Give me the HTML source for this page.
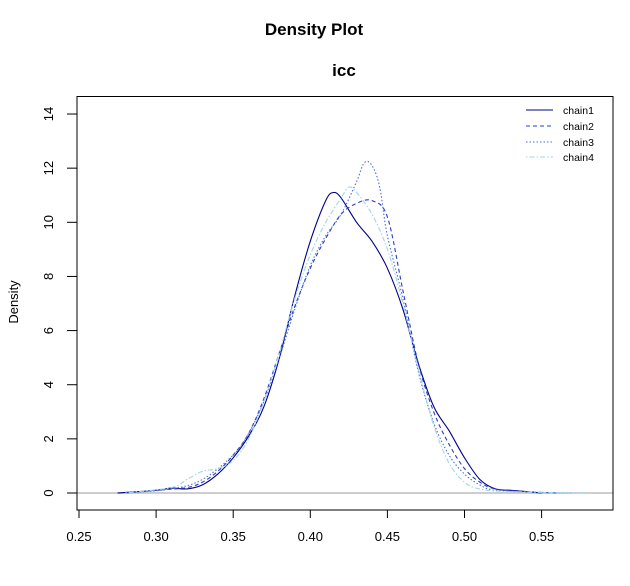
<!DOCTYPE html>
<html><head><meta charset="utf-8"><style>
body{margin:0;background:#fff}
svg{display:block;font-family:"Liberation Sans",Arial,sans-serif}
</style></head><body>
<svg id="s" width="630" height="586" xmlns="http://www.w3.org/2000/svg">
<rect width="630" height="586" fill="#fff"/>
<text x="314" y="35" text-anchor="middle" font-size="17" font-weight="bold">Density Plot</text>
<text x="344" y="76" text-anchor="middle" font-size="17" font-weight="bold">icc</text>
<line x1="77" y1="493" x2="613" y2="493" stroke="#bebebe" stroke-width="1.5"/>
<g id="curves" fill="none"></g>
<rect x="77" y="96.5" width="536" height="413.5" fill="none" stroke="#000" stroke-width="1"/>
<g id="ax" stroke="#000" stroke-width="1"></g>
<g id="lab" font-size="13" fill="#000"></g>
<text transform="translate(18,302) rotate(-90)" text-anchor="middle" font-size="13">Density</text>
<g font-size="10.5">
<line x1="526" y1="110" x2="553" y2="110" stroke="#00008B"/>
<line x1="526" y1="126" x2="553" y2="126" stroke="#2a3fbf" stroke-dasharray="4,3"/>
<line x1="526" y1="142" x2="553" y2="142" stroke="#4d6fd8" stroke-dasharray="1.5,2"/>
<line x1="526" y1="157" x2="553" y2="157" stroke="#9fd6ee" stroke-dasharray="1.5,2,5,2"/>
<text x="563" y="114">chain1</text>
<text x="563" y="130">chain2</text>
<text x="563" y="146">chain3</text>
<text x="563" y="161">chain4</text>
</g>
</svg>
<script>
var NS="http://www.w3.org/2000/svg";
function X(v){return 79+(v-0.25)/0.05*77.1}
function Y(v){return 493-v*27.07}
var ax=document.getElementById('ax'),lab=document.getElementById('lab');
function el(p,t,a){var e=document.createElementNS(NS,t);for(var k in a)e.setAttribute(k,a[k]);p.appendChild(e);return e}
for(var i=0;i<=6;i++){var v=0.25+i*0.05,x=X(v);el(ax,'line',{x1:x,y1:510,x2:x,y2:518});var t=el(lab,'text',{x:x,y:541,'text-anchor':'middle'});t.textContent=v.toFixed(2)}
for(var j=0;j<=14;j+=2){var y=Y(j);el(ax,'line',{x1:67,y1:y,x2:77,y2:y});var t2=el(lab,'text',{transform:'translate(53,'+y+') rotate(-90)','text-anchor':'middle'});t2.textContent=j}
var cs=[
 {c:'#00008B',d:'',p:[[0.275,0],[0.30,0.1],[0.31,0.18],[0.32,0.15],[0.33,0.3],[0.34,0.7],[0.35,1.3],[0.36,2.1],[0.37,3.2],[0.38,5],[0.39,7.3],[0.40,9.3],[0.41,10.8],[0.415,11.1],[0.42,10.9],[0.43,10],[0.44,9.3],[0.45,8.3],[0.46,6.8],[0.47,4.8],[0.48,3.2],[0.49,2.3],[0.50,1.3],[0.51,0.5],[0.52,0.15],[0.53,0.1],[0.54,0.05],[0.55,0]]},
 {c:'#2a3fbf',d:'4,3',p:[[0.28,0],[0.30,0.1],[0.32,0.2],[0.33,0.4],[0.34,0.8],[0.35,1.4],[0.36,2.2],[0.37,3.5],[0.38,5.2],[0.39,6.9],[0.40,8.3],[0.41,9.4],[0.42,10.3],[0.43,10.7],[0.44,10.8],[0.45,10.2],[0.46,7.5],[0.47,4.8],[0.48,3],[0.49,1.8],[0.50,0.9],[0.51,0.4],[0.52,0.15],[0.54,0.05],[0.56,0]]},
 {c:'#4d6fd8',d:'1.5,2',p:[[0.28,0],[0.31,0.15],[0.33,0.5],[0.35,1.4],[0.36,2.2],[0.37,3.4],[0.38,5],[0.39,6.8],[0.40,8.4],[0.41,9.5],[0.42,10.3],[0.43,11.5],[0.435,12.2],[0.44,12.1],[0.445,11.3],[0.45,9.5],[0.46,7.2],[0.47,4.5],[0.48,2.6],[0.49,1.4],[0.50,0.7],[0.51,0.3],[0.52,0.1],[0.55,0.02],[0.57,0]]},
 {c:'#9fd6ee',d:'1.5,2,5,2',p:[[0.28,0],[0.31,0.2],[0.32,0.5],[0.33,0.8],[0.34,0.9],[0.35,1.2],[0.36,2],[0.37,3.4],[0.38,5.2],[0.39,7.2],[0.40,8.8],[0.41,10],[0.42,10.9],[0.425,11.3],[0.43,11.1],[0.44,10.3],[0.45,9],[0.46,7],[0.47,4.6],[0.48,2.5],[0.49,1.1],[0.50,0.4],[0.51,0.15],[0.53,0.05],[0.58,0]]}
];
var g=document.getElementById('curves');
cs.forEach(function(c){var P=c.p.map(function(q){return [X(q[0]),Y(q[1])]});
var d='M'+P[0][0].toFixed(1)+','+P[0][1].toFixed(1);
for(var i=0;i<P.length-1;i++){var p0=P[Math.max(0,i-1)],p1=P[i],p2=P[i+1],p3=P[Math.min(P.length-1,i+2)];
var c1=[p1[0]+(p2[0]-p0[0])/6,p1[1]+(p2[1]-p0[1])/6],c2=[p2[0]-(p3[0]-p1[0])/6,p2[1]-(p3[1]-p1[1])/6];
d+='C'+c1[0].toFixed(1)+','+c1[1].toFixed(1)+' '+c2[0].toFixed(1)+','+c2[1].toFixed(1)+' '+p2[0].toFixed(1)+','+p2[1].toFixed(1)}
var a={d:d,stroke:c.c,'stroke-width':1.1};if(c.d)a['stroke-dasharray']=c.d;el(g,'path',a)});
</script>
</body></html>
